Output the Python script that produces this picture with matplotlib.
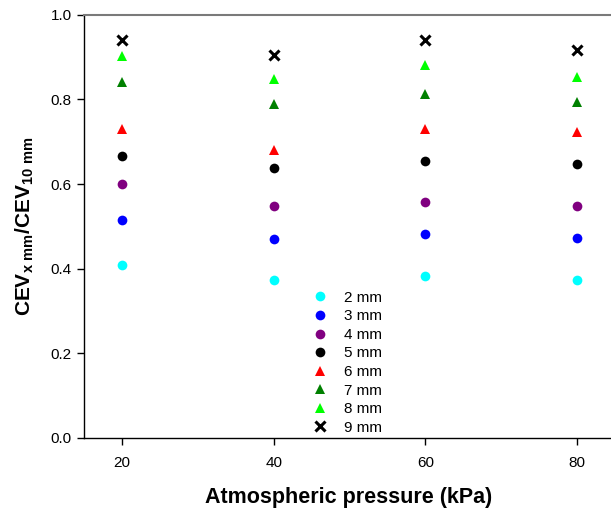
import matplotlib
matplotlib.use('Agg')
from matplotlib import pyplot as plt

plt.rcParams['font.family'] = ['Liberation Sans', 'DejaVu Sans']
plt.rcParams['mathtext.fontset'] = 'custom'
plt.rcParams['mathtext.rm'] = 'Liberation Sans'
plt.rcParams['mathtext.bf'] = 'Liberation Sans:bold'

# atmospheric pressure (kPa)
pressure = [20, 40, 60, 80]

# CEV ratio for each particle size
labels = ['2 mm', '3 mm', '4 mm', '5 mm', '6 mm', '7 mm', '8 mm', '9 mm']
mm2 = [0.408, 0.373, 0.383, 0.373]
mm3 = [0.515, 0.471, 0.482, 0.473]
mm4 = [0.600, 0.548, 0.558, 0.549]
mm5 = [0.667, 0.637, 0.655, 0.647]
mm6 = [0.729, 0.681, 0.730, 0.724]
mm7 = [0.842, 0.789, 0.813, 0.795]
mm8 = [0.902, 0.848, 0.882, 0.854]
mm9 = [0.941, 0.906, 0.940, 0.916]
series = [mm2, mm3, mm4, mm5, mm6, mm7, mm8, mm9]

colors = ['#00ffff', '#0000ff', '#800080', '#000000', '#ff0000', '#008000', '#00ff00', '#000000']
markers = ['o', 'o', 'o', 'o', '^', '^', '^', 'x']

fig = plt.figure(figsize=(6.11, 5.11), dpi=100)
ax = fig.add_axes([84/611, 73.5/511, 531/611, 422.5/511])

for vals, lab, c, m in zip(series, labels, colors, markers):
    if m == 'x':
        ax.plot(pressure, vals, linestyle='none', marker='x', color=c, markersize=6.5,
                markeredgewidth=2.2, label=lab)
    elif m == '^':
        ax.plot(pressure, vals, linestyle='none', marker='^', color=c, markersize=7.5,
                markeredgewidth=0, label=lab)
    else:
        ax.plot(pressure, vals, linestyle='none', marker='o', color=c, markersize=7,
                markeredgewidth=0, label=lab)

ax.set_xlim(15, 85)
ax.set_ylim(0, 1.0)
ax.set_xticks([20, 40, 60, 80])
ax.set_yticks([0.0, 0.2, 0.4, 0.6, 0.8, 1.0])
ax.set_yticklabels(['0.0', '0.2', '0.4', '0.6', '0.8', '1.0'])
ax.tick_params(direction='out', length=5, width=1, labelsize=11, pad=4)
ax.tick_params(axis='x', pad=8)

ax.spines['right'].set_visible(False)
ax.spines['top'].set_color('#7a7a7a')
ax.spines['top'].set_linewidth(1.5)
ax.spines['left'].set_linewidth(1)
ax.spines['bottom'].set_linewidth(1)

ax.set_xlabel('Atmospheric pressure (kPa)', fontsize=15.5, fontweight='bold')
ax.set_ylabel(r'$\mathbf{CEV_{x\ mm}/CEV_{10\ mm}}$', fontsize=15, labelpad=10)
ax.xaxis.set_label_coords(265/531, -59.5/422.5)
ax.xaxis.label.set_va('center')

ax.legend(loc='lower left', bbox_to_anchor=(210/531, -0.019), frameon=False, fontsize=11,
          handletextpad=0.55, labelspacing=0.3, borderpad=0.2)

fig.savefig('out.png', dpi=100)
